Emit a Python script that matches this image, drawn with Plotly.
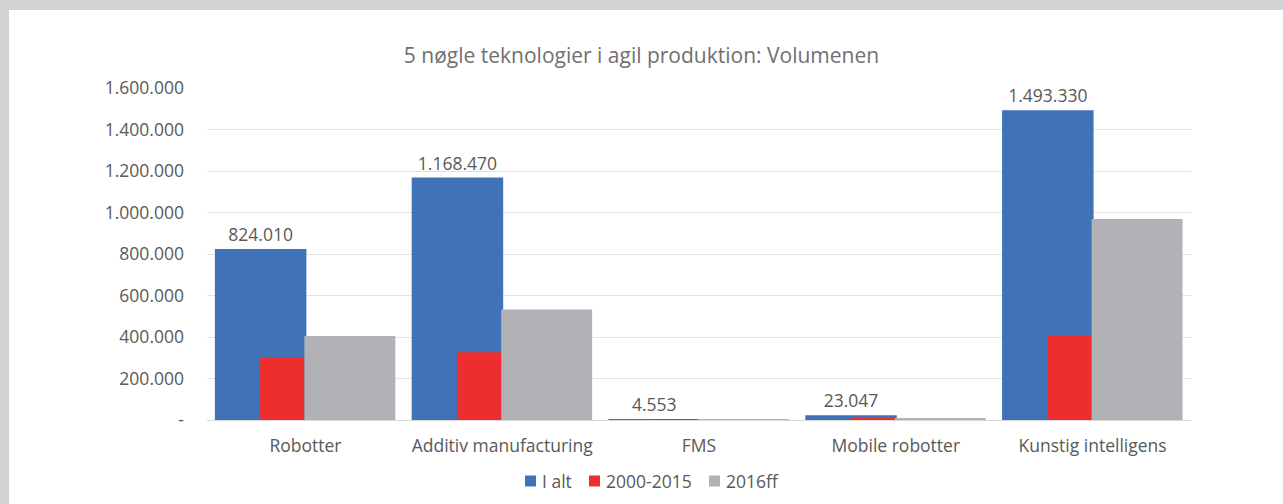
import plotly.graph_objects as go

categories = ["Robotter", "Additiv manufacturing", "FMS", "Mobile robotter", "Kunstig intelligens"]
i_alt = [824010, 1168470, 4553, 23047, 1493330]
p2000_2015 = [300000, 326000, 2000, 11000, 405000]
p2016ff = [405000, 533000, 1000, 8000, 969000]

series_names = ["I alt", "2000-2015", "2016ff"]
series_colors = ["#4072b8", "#ee2e2e", "#b1b2b5"]

y_ticks = [0, 200000, 400000, 600000, 800000, 1000000, 1200000, 1400000, 1600000]
y_ticktext = ["-", "200.000", "400.000", "600.000", "800.000", "1.000.000", "1.200.000", "1.400.000", "1.600.000"]


def fmt(v):
    return f"{v:,}".replace(",", ".")


FONT = "Open Sans"
TXT = "#595959"
FS = 17.5

fig = go.Figure()
fig.add_trace(go.Bar(
    x=categories, y=i_alt, name=series_names[0], marker_color=series_colors[0],
    offset=-0.46, width=0.465,
    text=[fmt(v) for v in i_alt], textposition="outside",
    textfont=dict(family=FONT, size=FS, color=TXT), cliponaxis=False,
    marker_line_width=0,
))
fig.add_trace(go.Bar(
    x=categories, y=p2000_2015, name=series_names[1], marker_color=series_colors[1],
    offset=-0.23, width=0.225, marker_line_width=0,
))
fig.add_trace(go.Bar(
    x=categories, y=p2016ff, name=series_names[2], marker_color=series_colors[2],
    offset=-0.005, width=0.462, marker_line_width=0,
))

W, H = 1283, 504
L, R, T, B = 207, 92, 88, 84
pw, ph = W - L - R, H - T - B


def px_x(p):
    return (p - L) / pw


def px_y(p):
    return (H - B - p) / ph


shapes = [dict(type="rect", xref="paper", yref="paper",
               x0=px_x(9), x1=px_x(W + 5), y0=px_y(H + 5), y1=px_y(10),
               fillcolor="white", line_width=0, layer="below")]
annotations = []
# manual legend (Excel style: small square + text)
leg_sq_x = [525, 589, 709]
leg_y = 481
for name, col, sx in zip(series_names, series_colors, leg_sq_x):
    shapes.append(dict(type="rect", xref="paper", yref="paper",
                       x0=px_x(sx), x1=px_x(sx + 11),
                       y0=px_y(leg_y + 5.5), y1=px_y(leg_y - 5.5),
                       fillcolor=col, line_width=0))
    annotations.append(dict(xref="paper", yref="paper", x=px_x(sx + 15),
                            y=px_y(leg_y), xanchor="left", yanchor="middle",
                            text=name, showarrow=False,
                            font=dict(family=FONT, size=FS, color=TXT)))

fig.update_layout(
    width=W, height=H,
    margin=dict(l=L, r=R, t=T, b=B, autoexpand=False),
    paper_bgcolor="#d3d4d6",
    plot_bgcolor="white",
    barmode="overlay",
    font=dict(family=FONT, size=FS, color=TXT),
    title=dict(text="5 nøgle teknologier i agil produktion: Volumenen",
               x=0.5, xanchor="center", y=1 - 56 / H, yanchor="middle",
               font=dict(family=FONT, size=21, color="#707070")),
    showlegend=False,
    shapes=shapes,
    annotations=annotations,
)
fig.update_xaxes(showgrid=False, showline=True, linecolor="#d9d9d9", linewidth=1,
                 ticks="", ticklabelstandoff=10, automargin=False,
                 tickfont=dict(family=FONT, size=FS, color=TXT))
fig.update_yaxes(range=[0, 1600000], tickvals=y_ticks, ticktext=y_ticktext,
                 showgrid=True, gridcolor="#e3e3e3", gridwidth=1,
                 zeroline=False, showline=False, ticks="", automargin=False,
                 ticklabelstandoff=22,
                 tickfont=dict(family=FONT, size=FS, color=TXT))

fig.write_html("out.html", config={"displayModeBar": False},
               post_script="document.body.style.margin='0';")
